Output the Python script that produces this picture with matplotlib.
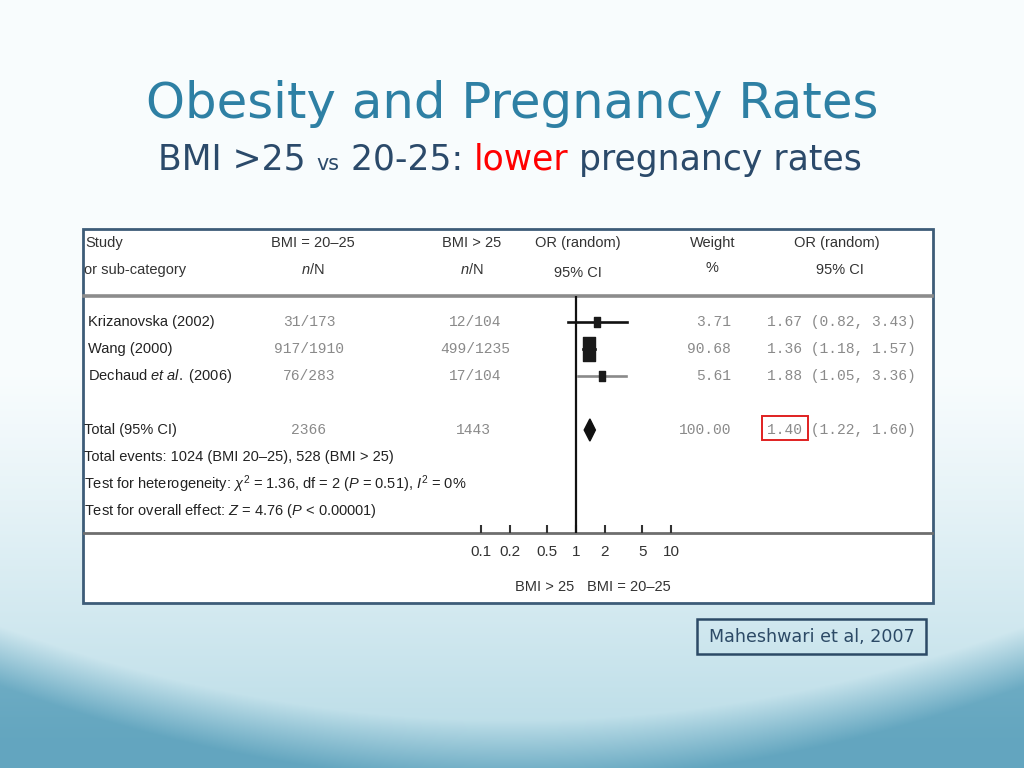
import numpy as np
import matplotlib
matplotlib.use("Agg")
import matplotlib.pyplot as plt
from matplotlib.patches import Rectangle
from matplotlib.path import Path
import matplotlib.transforms as mtransforms

# ---- data ----
studies = ["Krizanovska (2002)", "Wang (2000)", r"Dechaud $et\ al.$ (2006)"]
events_normal = ["31/173", "917/1910", "76/283"]
events_obese = ["12/104", "499/1235", "17/104"]
odds_ratio = [1.67, 1.36, 1.88]
ci_low = [0.82, 1.18, 1.05]
ci_high = [3.43, 1.57, 3.36]
weights = [3.71, 90.68, 5.61]
line_colors = ["#111111", "#111111", "#8a8a8a"]

total_or = 1.40
total_low = 1.22
total_high = 1.60
total_normal = 2366
total_obese = 1443
total_weight = 100.00

tick_values = [0.1, 0.2, 0.5, 1, 2, 5, 10]
tick_labels = ["0.1", "0.2", "0.5", "1", "2", "5", "10"]

summary_lines = [
    "Total events: 1024 (BMI 20\u201325), 528 (BMI > 25)",
    r"Test for heterogeneity: $\chi^2$ = 1.36, df = 2 ($P$ = 0.51), $I^2$ = 0%",
    r"Test for overall effect: $Z$ = 4.76 ($P$ < 0.00001)",
]

# fonts
narrow = "Liberation Sans"
mono = "Liberation Mono"
slide_font = "DejaVu Sans"
plt.rcParams["mathtext.fontset"] = "custom"
plt.rcParams["mathtext.rm"] = narrow
plt.rcParams["mathtext.it"] = narrow + ":italic"

W, H = 1024, 768
fig = plt.figure(figsize=(W / 100, H / 100), dpi=100)

# overlay axes in pixel coordinates
ax = fig.add_axes([0, 0, 1, 1], zorder=0)
ax.set_xlim(0, W)
ax.set_ylim(H, 0)
ax.axis("off")

# slide background: white top, teal waves at the bottom
yy, xx = np.mgrid[0:H, 0:W].astype(float)
white = np.array([0.975, 0.99, 0.995])
light = np.array([0.74, 0.87, 0.91])
teal = np.array([0.39, 0.65, 0.75])
t1 = np.clip((yy - 370) / 360, 0, 1) ** 1.15
curve = 720 - 0.00036 * (xx - 512) ** 2
t2 = np.clip((yy - curve) / 60, 0, 1) * np.clip(0.8 + (yy - 620) / 600, 0, 1)
img = white * (1 - t1[..., None]) + light * t1[..., None]
img = img * (1 - t2[..., None]) + teal * t2[..., None]
ax.imshow(img, extent=(0, W, H, 0), aspect="auto", zorder=0)

renderer = fig.canvas.get_renderer()

# title, sized to span the same width as the reference
title = ax.text(512, 118, "Obesity and Pregnancy Rates", ha="center", va="baseline",
                fontsize=36, color="#2e80a4", family=slide_font, zorder=3)
tw = title.get_window_extent(renderer).width
title.set_fontsize(36 * 732 / tw)

# subtitle built piece by piece on one baseline
pieces = [("BMI >25 ", 1.0, "#2b4a6a"), ("vs", 0.6, "#2b4a6a"), (" 20-25: ", 1.0, "#2b4a6a"),
          ("lower", 1.0, "#ff0000"), (" pregnancy rates", 1.0, "#2b4a6a")]


def draw_subtitle(base):
    arts = []
    x = 158
    for s, rel, col in pieces:
        t = ax.text(x, 170, s, ha="left", va="baseline", fontsize=base * rel, color=col,
                    family=slide_font, zorder=3)
        x += t.get_window_extent(renderer).width
        arts.append(t)
    return arts, x - 158


arts, width = draw_subtitle(22)
for a in arts:
    a.remove()
draw_subtitle(22 * 704 / width)

# white figure box
ax.add_patch(Rectangle((83, 229), 850, 374, fc="white", ec="#3d5c78", lw=2, zorder=1))
ax.plot([84, 932], [296, 296], color="#8c8c8c", lw=2.6, zorder=2)
ax.plot([84, 932], [533, 533], color="#6e6e6e", lw=2.0, zorder=2)

# header
hdr = dict(family=narrow, fontsize=10.5, color="#333333", va="center", zorder=3)
ax.text(85, 243, "Study", ha="left", **hdr)
ax.text(84, 270, "or sub-category", ha="left", **hdr)
ax.text(313, 243, "BMI = 20\u201325", ha="center", **hdr)
ax.text(313, 270, r"$n$/N", ha="center", **hdr)
ax.text(472, 243, "BMI > 25", ha="center", **hdr)
ax.text(472, 270, r"$n$/N", ha="center", **hdr)
ax.text(578, 243, "OR (random)", ha="center", **hdr)
ax.text(578, 273, "95% CI", ha="center", **hdr)
ax.text(713, 243, "Weight", ha="center", **hdr)
ax.text(712, 268, "%", ha="center", **hdr)
ax.text(837, 243, "OR (random)", ha="center", **hdr)
ax.text(840, 270, "95% CI", ha="center", **hdr)

# forest axes: log scale, placed over the plot column
top_px, bot_px = 296, 533
x0_px, x1_px = 481, 671
row_px, row_step = 322, 27
fx = fig.add_axes([x0_px / W, 1 - bot_px / H, (x1_px - x0_px) / W, (bot_px - top_px) / H], zorder=2)
fx.patch.set_alpha(0)
fx.set_xscale("log")
fx.set_xlim(0.1, 10)
fx.set_ylim((bot_px - row_px) / row_step, (top_px - row_px) / row_step)
for sp in fx.spines.values():
    sp.set_visible(False)
fx.set_yticks([])
fx.set_xticks(tick_values)
fx.set_xticklabels(tick_labels)
fx.minorticks_off()
fx.tick_params(axis="x", direction="in", length=6, width=1.5, color="#333333",
               labelsize=11, labelcolor="#333333", pad=9)
for lab in fx.get_xticklabels():
    lab.set_family(narrow)
fx.axvline(1, color="#111111", lw=1.6)

rows = np.arange(len(studies))
total_row = len(studies) + 1
rect = Path([(-0.5, -1), (0.5, -1), (0.5, 1), (-0.5, 1), (-0.5, -1)],
            [Path.MOVETO, Path.LINETO, Path.LINETO, Path.LINETO, Path.CLOSEPOLY])
for i in rows:
    fx.plot([ci_low[i], ci_high[i]], [i, i], color=line_colors[i], lw=1.9, clip_on=False)
    ms = max(7.5, 17.5 * np.sqrt(weights[i] / max(weights)))
    fx.plot(odds_ratio[i], i, marker=rect, ms=ms, color="#1a1a1a", clip_on=False)
dh = 0.41
fx.fill([total_low, total_or, total_high, total_or],
        [total_row, total_row - dh, total_row, total_row + dh], color="#111111", clip_on=False)

# table text, rows aligned to the forest axes
tr = mtransforms.blended_transform_factory(ax.transData, fx.transData)
name_kw = dict(family=narrow, fontsize=10.5, color="#222222", va="center", transform=tr, zorder=3)
num_kw = dict(family=mono, fontsize=10.5, color="#8a8a8a", va="center", transform=tr, zorder=3)
for i in rows:
    ax.text(88, i, studies[i], ha="left", **name_kw)
    ax.text(309, i, events_normal[i], ha="center", **num_kw)
    ax.text(475, i, events_obese[i], ha="center", **num_kw)
    ax.text(731, i, f"{weights[i]:.2f}", ha="right", **num_kw)
    ax.text(767, i, f"{odds_ratio[i]:.2f} ({ci_low[i]:.2f}, {ci_high[i]:.2f})", ha="left", **num_kw)

ax.text(84, total_row, "Total (95% CI)", ha="left", **name_kw)
ax.text(309, total_row, f"{total_normal}", ha="center", **num_kw)
ax.text(473, total_row, f"{total_obese}", ha="center", **num_kw)
ax.text(731, total_row, f"{total_weight:.2f}", ha="right", **num_kw)
ax.text(767, total_row, f"{total_or:.2f} ({total_low:.2f}, {total_high:.2f})", ha="left", **num_kw)

# red box around the pooled OR
probe = ax.text(767, total_row, f"{total_or:.2f}", ha="left", alpha=0, **num_kw)
bb = probe.get_window_extent(renderer).transformed(ax.transData.inverted())
ax.add_patch(Rectangle((bb.x0 - 5, 416), bb.width + 11, 24, fc="none", ec="#e02020", lw=1.4, zorder=4))

for k, line in enumerate(summary_lines):
    ax.text(84, total_row + 1 + k, line, ha="left", **name_kw)

# direction labels under the axis
ax.text(545, 587, "BMI > 25", ha="center", va="center", family=narrow, fontsize=10.5, color="#333333", zorder=3)
ax.text(629, 587, "BMI = 20\u201325", ha="center", va="center", family=narrow, fontsize=10.5, color="#333333", zorder=3)

# citation box
ax.add_patch(Rectangle((697, 619), 229, 35, fc="none", ec="#2c4a66", lw=1.8, zorder=3))
ax.text(811.5, 637, "Maheshwari et al, 2007", ha="center", va="center", fontsize=12.6,
        color="#2c4a66", family=slide_font, zorder=3)

fig.savefig("out.png", dpi=100)
